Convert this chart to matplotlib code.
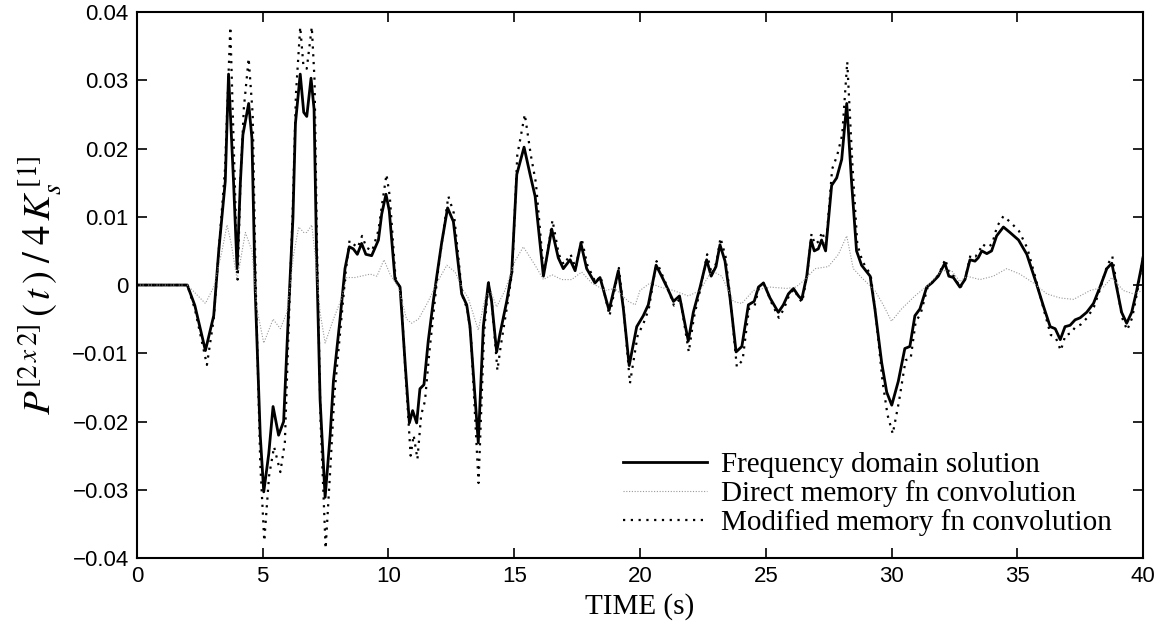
import numpy as np
import matplotlib.pyplot as plt

plt.rcParams["mathtext.fontset"] = "stix"

# frequency domain solution (solid)
freq_t = [0, 2.0, 2.3, 2.72, 3.05, 3.25, 3.51, 3.64, 3.84, 3.98, 4.11, 4.21, 4.44, 4.57,
          4.7, 4.9, 5.04, 5.24, 5.41, 5.63, 5.83, 6.03, 6.2, 6.3, 6.49, 6.63, 6.75, 6.92,
          7.04, 7.14, 7.28, 7.48, 7.68, 7.81, 8.07, 8.27, 8.44, 8.6, 8.76, 8.93, 9.1, 9.33,
          9.6, 9.73, 9.9, 10.03, 10.26, 10.46, 10.66, 10.83, 10.96, 11.12, 11.25, 11.41,
          11.58, 11.78, 11.92, 12.11, 12.35, 12.58, 12.91, 13.11, 13.24, 13.57, 13.77,
          13.97, 14.1, 14.3, 14.43, 14.7, 14.9, 15.1, 15.39, 15.63, 15.83, 16.16, 16.49,
          16.75, 16.95, 17.22, 17.42, 17.65, 17.88, 18.21, 18.41, 18.77, 19.14, 19.34,
          19.57, 19.87, 20.13, 20.33, 20.64, 20.86, 21.07, 21.33, 21.57, 21.92, 22.12,
          22.39, 22.65, 22.83, 23.02, 23.18, 23.38, 23.58, 23.82, 24.05, 24.31, 24.54,
          24.71, 24.91, 25.17, 25.5, 25.7, 25.9, 26.1, 26.3, 26.43, 26.63, 26.8, 26.93,
          27.09, 27.22, 27.38, 27.62, 27.82, 28.02, 28.22, 28.41, 28.61, 28.81, 29.15,
          29.34, 29.61, 29.81, 30.01, 30.27, 30.53, 30.73, 30.93, 31.13, 31.4, 31.6,
          31.86, 32.12, 32.28, 32.46, 32.72, 32.92, 33.12, 33.32, 33.45, 33.59, 33.79,
          33.98, 34.18, 34.45, 34.71, 35.05, 35.38, 35.71, 36.05, 36.31, 36.51, 36.71,
          36.9, 37.1, 37.3, 37.5, 37.76, 38.03, 38.29, 38.56, 38.76, 38.95, 39.15, 39.35,
          39.55, 39.75, 39.95, 40.0]
freq_v = [0, 0, -0.003, -0.0096, -0.0045, 0.005, 0.0152, 0.0309, 0.015, 0.0024, 0.015,
          0.022, 0.0266, 0.0215, -0.0008, -0.022, -0.0303, -0.0247, -0.0178, -0.022,
          -0.020, -0.0035, 0.0098, 0.0237, 0.0309, 0.0253, 0.0247, 0.0303, 0.0258, 0.0045,
          -0.0168, -0.0311, -0.022, -0.0141, -0.0051, 0.0024, 0.0056, 0.0053, 0.0045,
          0.0061, 0.0045, 0.0043, 0.0066, 0.0104, 0.0133, 0.0109, 0.0008, -0.0003,
          -0.0114, -0.0202, -0.0184, -0.0202, -0.0152, -0.0146, -0.0082, -0.0024, 0.0013,
          0.0061, 0.0113, 0.0093, -0.0013, -0.0029, -0.0061, -0.0231, -0.0061, 0.0003,
          -0.0024, -0.0098, -0.0072, -0.0024, 0.0019, 0.0162, 0.0202, 0.0162, 0.013,
          0.0013, 0.0082, 0.004, 0.0024, 0.0037, 0.0021, 0.0061, 0.0024, 0.0003, 0.0011,
          -0.0037, 0.0021, -0.0035, -0.0118, -0.0061, -0.0045, -0.0029, 0.0029, 0.0013,
          -0.0003, -0.0024, -0.0016, -0.0082, -0.004, -0.0003, 0.0037, 0.0013, 0.0027,
          0.0059, 0.0035, -0.0019, -0.0098, -0.009, -0.0029, -0.0024, -0.0003, 0.0003,
          -0.0019, -0.004, -0.0029, -0.0013, -0.0005, -0.0016, -0.0021, 0.0013, 0.0066,
          0.005, 0.0053, 0.0066, 0.005, 0.0146, 0.0157, 0.0184, 0.0266, 0.0152, 0.005,
          0.0029, 0.0013, -0.0035, -0.0114, -0.0157, -0.0176, -0.0141, -0.0093, -0.009,
          -0.0045, -0.0035, -0.0003, 0.0003, 0.0013, 0.0032, 0.0013, 0.0011, -0.0003,
          0.0008, 0.0037, 0.0035, 0.004, 0.005, 0.0046, 0.005, 0.0072, 0.0085, 0.0077,
          0.0066, 0.0045, 0.0008, -0.0032, -0.0061, -0.0064, -0.008, -0.0061, -0.0059,
          -0.0051, -0.0048, -0.004, -0.0027, -0.0003, 0.0024, 0.0032, -0.0003, -0.004,
          -0.0056, -0.004, -0.0008, 0.0029, 0.004]

# direct memory fn convolution (faint dotted)
direct_t = [0, 2.0, 2.72, 3.05, 3.38, 3.58, 3.75, 3.98, 4.31, 4.57, 4.77, 5.04, 5.41, 5.7,
            5.96, 6.23, 6.43, 6.63, 6.75, 6.95, 7.08, 7.28, 7.48, 7.81, 8.14, 8.34, 8.67,
            9.27, 9.54, 9.82, 10.06, 10.39, 10.72, 10.92, 11.19, 11.58, 11.92, 12.32,
            12.65, 12.98, 13.17, 13.57, 13.84, 14.05, 14.3, 14.63, 15.03, 15.36, 15.83,
            16.16, 16.5, 16.89, 17.28, 17.68, 18.08, 18.61, 19.0, 19.54, 19.81, 20.0,
            20.4, 20.8, 21.33, 21.92, 22.39, 22.85, 23.25, 23.71, 24.05, 24.51, 25.17,
            25.83, 26.2, 26.56, 26.96, 27.49, 27.89, 28.22, 28.48, 28.81, 29.34, 29.67,
            30.0, 30.4, 30.93, 31.46, 31.99, 32.39, 32.72, 32.99, 33.52, 34.05, 34.58,
            35.11, 35.64, 36.18, 36.71, 37.24, 37.9, 38.43, 38.76, 39.22, 39.62, 40.0]
direct_v = [0, 0, -0.0027, -0.0003, 0.005, 0.0088, 0.006, 0.0008, 0.0077, 0.005, -0.0035,
            -0.0085, -0.005, -0.0064, -0.004, 0.0045, 0.0085, 0.0077, 0.0077, 0.0088,
            0.0045, -0.004, -0.0085, -0.005, -0.0019, 0.0011, 0.0011, 0.0016, 0.0013,
            0.0037, 0.0016, -0.0003, -0.005, -0.0056, -0.005, -0.0024, 0.0003, 0.0029,
            0.0019, -0.0008, -0.0019, -0.0066, -0.0019, -0.0008, -0.0032, -0.0008,
            0.0035, 0.0056, 0.0029, 0.0008, 0.0015, 0.0008, 0.0008, 0.0019, 0.0003,
            -0.0008, -0.0005, -0.0024, -0.0029, -0.0008, 0.0003, -0.0003, -0.0008,
            -0.0016, -0.0008, 0.0021, 0.0013, -0.0024, -0.0027, -0.0008, -0.0003,
            -0.0005, -0.0003, 0.0008, 0.0024, 0.0027, 0.0045, 0.0072, 0.0024, 0.0011,
            -0.0008, -0.0029, -0.0053, -0.0035, -0.0016, 0.0, 0.0021, 0.0021, 0.0005,
            0.0013, 0.0008, 0.0013, 0.0024, 0.0016, 0.0003, -0.0013, -0.0019, -0.0021,
            -0.0008, -0.0003, 0.0011, -0.0008, -0.0013, -0.0008]

# modified memory fn convolution (black dotted)
mod_t = [0, 2.0, 2.3, 2.78, 3.05, 3.25, 3.5, 3.71, 3.88, 4.0, 4.12, 4.25, 4.44, 4.6, 4.72,
         4.9, 5.06, 5.25, 5.45, 5.7, 5.88, 6.05, 6.2, 6.32, 6.49, 6.62, 6.75, 6.95, 7.06,
         7.16, 7.3, 7.5, 7.7, 7.85, 8.1, 8.3, 8.45, 8.6, 8.78, 8.95, 9.12, 9.35, 9.6,
         9.75, 9.92, 10.05, 10.28, 10.48, 10.68, 10.88, 11.0, 11.15, 11.3, 11.45, 11.62,
         11.82, 11.95, 12.15, 12.38, 12.6, 12.93, 13.13, 13.27, 13.58, 13.8, 13.98,
         14.12, 14.33, 14.46, 14.72, 14.92, 15.12, 15.42, 15.66, 15.86, 16.18, 16.52,
         16.77, 16.97, 17.24, 17.44, 17.68, 17.9, 18.23, 18.43, 18.79, 19.16, 19.36,
         19.6, 19.9, 20.15, 20.35, 20.66, 20.88, 21.1, 21.35, 21.6, 21.94, 22.14, 22.41,
         22.67, 22.85, 23.04, 23.2, 23.4, 23.6, 23.85, 24.08, 24.33, 24.56, 24.73,
         24.93, 25.19, 25.52, 25.72, 25.92, 26.12, 26.32, 26.45, 26.65, 26.82, 26.95,
         27.11, 27.24, 27.4, 27.64, 27.84, 28.04, 28.24, 28.44, 28.64, 28.84, 29.17,
         29.37, 29.64, 29.84, 30.05, 30.3, 30.56, 30.76, 30.96, 31.16, 31.43, 31.63,
         31.89, 32.14, 32.3, 32.48, 32.74, 32.94, 33.14, 33.34, 33.47, 33.61, 33.81,
         34.0, 34.2, 34.45, 34.73, 35.07, 35.4, 35.73, 36.07, 36.33, 36.53, 36.73,
         36.92, 37.12, 37.32, 37.52, 37.78, 38.05, 38.31, 38.58, 38.78, 38.97, 39.17,
         39.37, 39.57, 39.77, 40.0]
mod_v = [0, 0, -0.0035, -0.0117, -0.005, 0.005, 0.017, 0.0378, 0.016, 0.0008, 0.016,
         0.026, 0.0332, 0.025, 0.0, -0.026, -0.0375, -0.028, -0.0237, -0.0274, -0.023,
         -0.004, 0.012, 0.028, 0.0378, 0.032, 0.0317, 0.0378, 0.03, 0.005, -0.02,
         -0.0386, -0.026, -0.016, -0.006, 0.002, 0.0065, 0.006, 0.0055, 0.0072, 0.0055,
         0.005, 0.008, 0.012, 0.0162, 0.013, 0.001, -0.0005, -0.013, -0.025, -0.022,
         -0.0255, -0.019, -0.017, -0.010, -0.003, 0.0015, 0.007, 0.013, 0.0105, -0.0015,
         -0.0035, -0.007, -0.029, -0.007, 0.0004, -0.003, -0.0125, -0.009, -0.003,
         0.002, 0.019, 0.025, 0.019, 0.015, 0.0015, 0.0095, 0.0045, 0.003, 0.0045,
         0.0025, 0.0068, 0.003, 0.0004, 0.0013, -0.0045, 0.0025, -0.004, -0.0144,
         -0.0075, -0.0055, -0.0035, 0.0035, 0.0015, -0.0004, -0.003, -0.002, -0.0098,
         -0.0048, -0.0004, 0.0045, 0.0016, 0.0033, 0.0069, 0.0042, -0.0023, -0.012,
         -0.011, -0.0035, -0.003, -0.0004, 0.0004, -0.0023, -0.0048, -0.0035, -0.0016,
         -0.0006, -0.002, -0.0025, 0.0016, 0.0075, 0.006, 0.0064, 0.0078, 0.006, 0.017,
         0.019, 0.022, 0.0327, 0.018, 0.006, 0.0035, 0.0015, -0.0042, -0.014, -0.019,
         -0.0218, -0.017, -0.011, -0.0108, -0.0054, -0.0042, -0.0004, 0.0004, 0.0016,
         0.0038, 0.0016, 0.0013, -0.0004, 0.001, 0.0044, 0.0042, 0.0048, 0.006, 0.0055,
         0.006, 0.0086, 0.0101, 0.0092, 0.0079, 0.0054, 0.001, -0.0038, -0.0073,
         -0.0077, -0.0096, -0.0073, -0.0071, -0.0061, -0.0058, -0.0048, -0.0032,
         -0.0004, 0.0029, 0.0042, -0.0004, -0.0048, -0.0066, -0.0048, -0.001, 0.004]

x_ticks = [0, 5, 10, 15, 20, 25, 30, 35, 40]
y_ticks = [-0.04, -0.03, -0.02, -0.01, 0, 0.01, 0.02, 0.03, 0.04]
y_labels = ["\u22120.04", "\u22120.03", "\u22120.02", "\u22120.01", "0",
            "0.01", "0.02", "0.03", "0.04"]

fig = plt.figure(figsize=(11.61, 6.32), dpi=100)
ax = fig.add_axes([0.118, 0.117, 0.8665, 0.864])

ax.plot(freq_t, freq_v, color="black", lw=2.0, label="Frequency domain solution")
ax.plot(direct_t, direct_v, color="0.6", lw=0.8, linestyle=(0, (1, 1.5)),
        label="Direct memory fn convolution")
ax.plot(mod_t, mod_v, color="black", lw=1.6, linestyle=(0, (1, 2.5)),
        label="Modified memory fn convolution")

ax.set_xlim(0, 40)
ax.set_ylim(-0.04, 0.04)
ax.set_xticks(x_ticks)
ax.set_xticklabels([str(x) for x in x_ticks])
ax.set_yticks(y_ticks)
ax.set_yticklabels(y_labels)
ax.tick_params(direction="in", length=7, width=1.2, top=True, right=True,
               labelsize=16, pad=6)
for lab in ax.get_xticklabels() + ax.get_yticklabels():
    lab.set_fontfamily("Liberation Sans")
for sp in ax.spines.values():
    sp.set_linewidth(1.5)

ax.set_xlabel("TIME (s)", fontsize=21, family="Liberation Serif", labelpad=4)
ax.set_ylabel(r"$P^{[2\,x\,2]}\,(\,t\,)\;/\;4\,K_s^{\,[1]}$", fontsize=28, labelpad=6)

leg = ax.legend(loc="lower left", bbox_to_anchor=(0.483, 0.04), frameon=False,
                prop={"family": "Liberation Serif", "size": 21},
                handlelength=2.9, handletextpad=0.45, labelspacing=0.07,
                borderpad=0, borderaxespad=0)

fig.savefig("out.png", dpi=100)
